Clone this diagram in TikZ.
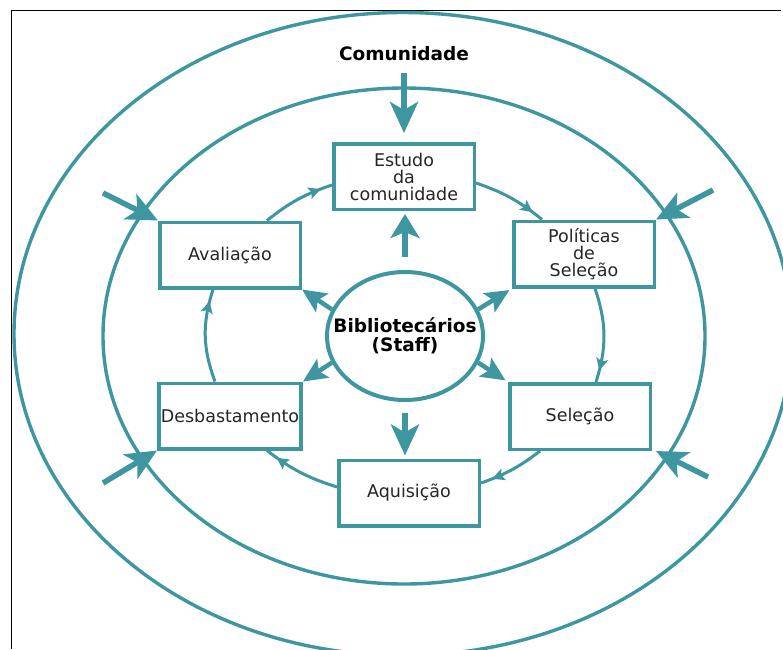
\documentclass[tikz,border=0pt]{standalone}
\usepackage{fontspec}
\setmainfont{DejaVu Sans}
\usetikzlibrary{arrows.meta,shapes.geometric,calc,decorations.markings}
\definecolor{cdteal}{RGB}{62,150,160}

\begin{document}
\begin{tikzpicture}[x=1pt,y=1pt,
  ring/.style={draw=cdteal, line width=3.4pt},
  stage/.style={draw=cdteal, fill=white, line width=3.5pt,
    minimum width=140.5pt, minimum height=65.5pt, inner sep=2pt,
    align=center, text=black!85, font=\fontsize{17.5}{17}\selectfont},
  hub/.style={ellipse, draw=cdteal, fill=white, line width=4pt,
    minimum width=156pt, minimum height=128pt, inner sep=0pt},
  boldlabel/.style={font=\bfseries\fontsize{18.5}{19}\selectfont, text=black, align=center},
  cycarrow/.style={draw=cdteal, line width=3pt, postaction={decorate},
    decoration={markings, mark=at position -12pt with
      {\arrow{Stealth[length=12pt,width=12pt,inset=2.5pt]}}}},
  bigarrow/.style={draw=cdteal, line width=5.5pt,
    -{Stealth[length=31pt,width=28pt,inset=8pt]}},
  hubarrow/.style={draw=cdteal, line width=5.5pt,
    -{Stealth[length=24pt,width=29pt,inset=6pt]}},
  midarrow/.style={draw=cdteal, line width=4.5pt,
    -{Stealth[length=24pt,width=22pt,inset=5pt]}},
]
\useasboundingbox (0,0) rectangle (783,-649);
\clip (0,0) rectangle (783,-649);
\fill[white] (0,0) rectangle (783,-649);

% frame edges
\draw[black, line width=1.2pt] (11.5,-649) -- (11.5,-10.5) -- (781,-10.5);

% community rings
\draw[ring] (403,-334) ellipse [x radius=389, y radius=321.5];
\draw[ring] (404,-336) ellipse [x radius=301, y radius=248];

% title
\node[boldlabel, inner sep=0pt, anchor=base] (com) at (404,-60) {Comunidade};

% process stages
\node[stage] (estudo) at (404,-176.5) {Estudo\\da\\comunidade};
\node[stage] (pol)    at (584,-254)   {Políticas\\de\\Seleção};
\node[stage] (sel)    at (580,-416.5) {Seleção};
\node[stage] (aq)     at (409,-493)   {Aquisição};
\node[stage] (desb)   at (230,-416)   {Desbastamento};
\node[stage] (aval)   at (230,-255)   {Avaliação};

% staff hub
\node[hub] (bib) at (405,-336) {};
\node[boldlabel] (bibtext) at (bib.center) {Bibliotecários\\(Staff)};

% cycle between stages
\draw[cycarrow] ($(estudo.east)+(0,-6.5)$) to[bend left=10] ($(pol.north)+(-42,0)$);
\draw[cycarrow] ($(pol.south)+(11,0)$) to[bend left=18] ($(sel.north)+(16,0)$);
\draw[cycarrow] ($(sel.south)+(-40,0)$) to[bend left=9] ($(aq.east)+(0,10)$);
\draw[cycarrow] ($(aq.west)+(0,6)$) to[bend left=10] ($(desb.south)+(37,0)$);
\draw[cycarrow] ($(desb.north)+(-15,0)$) to[bend left=19] ($(aval.south)+(-17,0)$);
\draw[cycarrow] ($(aval.north)+(37,0)$) to[bend left=10] ($(estudo.west)+(0,-8.5)$);

% community input
\draw[bigarrow, shorten <=13pt, shorten >=9pt] (com.south) -- (com.south |- estudo.north);

% hub to stages
\draw[hubarrow, shorten <=13pt, shorten >=3pt] (bib.north) -- (bib.north |- estudo.south);
\draw[bigarrow, shorten <=11pt, shorten >=3pt] (bib.south) -- (bib.south |- aq.north);
\draw[midarrow] (bib.160) -- (aval.south east);
\draw[midarrow] (bib.200) -- (desb.north east);
\draw[midarrow, shorten >=3pt] (bib.20) -- (pol.south west);
\draw[midarrow, shorten >=3pt] (bib.-20) -- (sel.north west);

% outside influences
\coordinate (intl) at (103,-193);
\coordinate (intr) at (713,-190);
\coordinate (inbl) at (103,-483);
\coordinate (inbr) at (708,-477);
\draw[bigarrow] (intl) -- (aval.north west);
\draw[bigarrow] (intr) -- (pol.north east);
\draw[bigarrow] (inbl) -- (desb.south west);
\draw[bigarrow] (inbr) -- ($(sel.south east)+(4,0)$);
\end{tikzpicture}
\end{document}
